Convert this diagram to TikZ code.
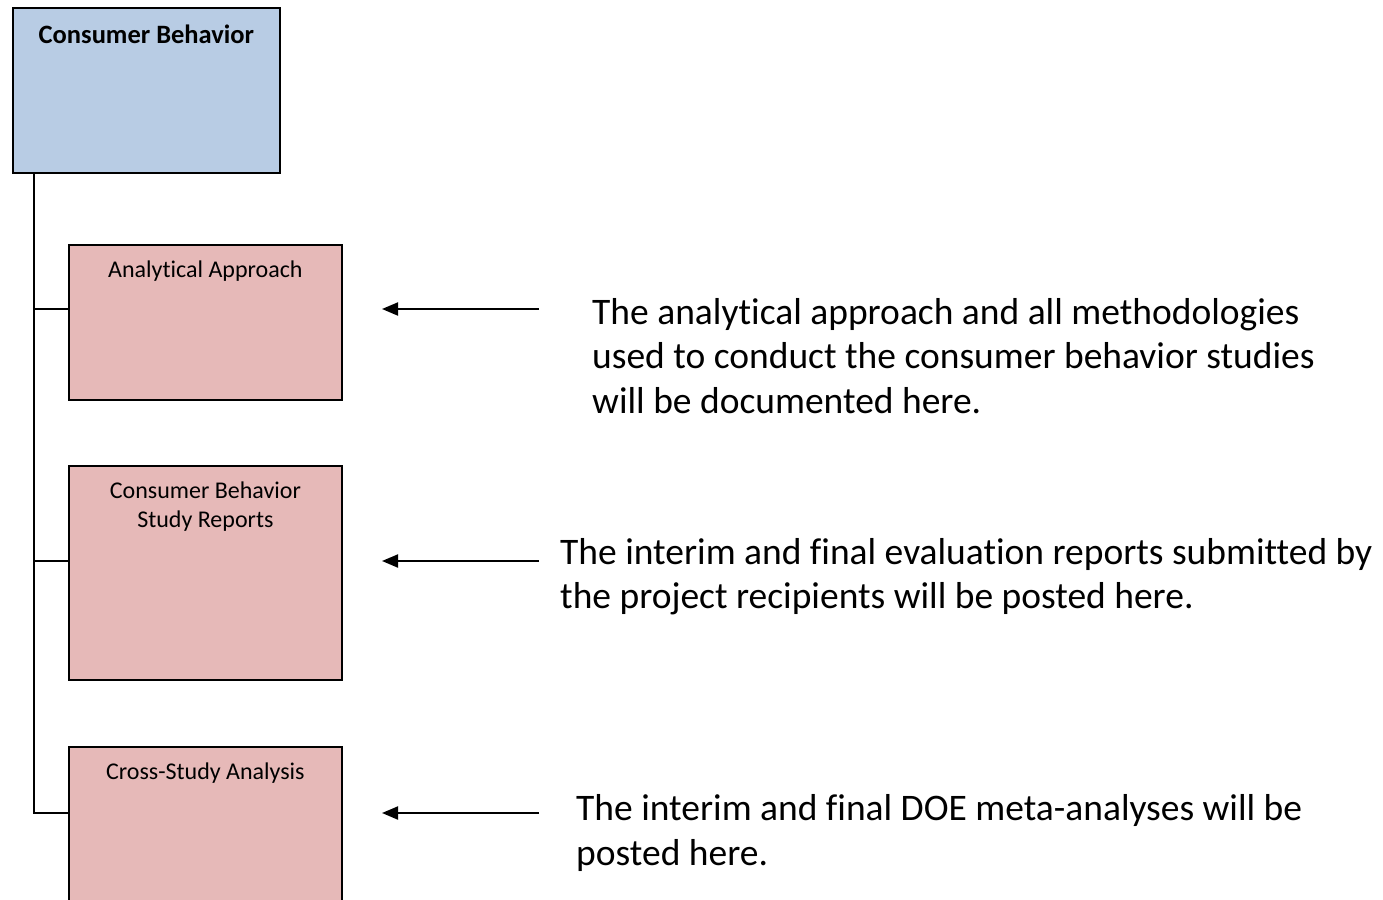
\documentclass[tikz,border=0pt]{standalone}
\usepackage{fontspec}
\setmainfont{Carlito}[Ligatures={NoCommon}]
\usetikzlibrary{arrows.meta,calc}
\definecolor{rootfill}{HTML}{B8CCE4}
\definecolor{itemfill}{HTML}{E6B9B8}
\begin{document}
\begin{tikzpicture}[x=1pt,y=-1pt,
  boxbase/.style={draw=black, line width=1.8pt, rectangle, anchor=north west, inner sep=0pt},
  rootbox/.style={boxbase, fill=rootfill, minimum width=267pt, minimum height=165pt},
  itembox/.style={boxbase, fill=itemfill, minimum width=273pt},
  boxlabel/.style={anchor=base, align=center, inner sep=0pt, font=\fontsize{24}{29.5}\selectfont},
  rootlabel/.style={anchor=base, inner sep=0pt, font=\fontsize{26.5}{32}\selectfont\bfseries},
  tree/.style={draw=black, line width=1.8pt},
  pointer/.style={draw=black, line width=2pt, -{Triangle[length=16pt,width=13pt]}},
  note/.style={anchor=base west, align=left, inner sep=0pt, font=\fontsize{37.5}{44.5}\selectfont}
]
\useasboundingbox (0,0) rectangle (1383,899);
\clip (0,0) rectangle (1383,899);

% hierarchy boxes (labels are placed by the baseline of their last line)
\node[rootbox] (root) at (12,7) {};
\node[rootlabel, yshift=-37pt] (rootl) at (root.north) {Consumer Behavior};

\node[itembox, minimum height=155pt] (c1) at (68,244) {};
\node[boxlabel, yshift=-33pt] (c1l) at (c1.north) {Analytical Approach};

\node[itembox, minimum height=214pt] (c2) at (68,465) {};
\node[boxlabel, yshift=-62.5pt] (c2l) at (c2.north) {Consumer Behavior\\Study Reports};

\node[itembox, minimum height=214pt] (c3) at (68,746) {};
\node[boxlabel, yshift=-33pt] (c3l) at (c3.north) {Cross-Study Analysis};

% tree connectors from the root down the left trunk
\coordinate (trunk) at (34,172);
\coordinate (j1) at (c1.west |- 0,309);
\coordinate (j2) at (c2.west |- 0,561);
\coordinate (j3) at (c3.west |- 0,813);
\draw[tree] (trunk) |- (j1);
\draw[tree] (trunk) |- (j2);
\draw[tree] (trunk) |- (j3);

% explanatory notes with pointers
\coordinate (s1) at (539,309); \coordinate (e1) at (382,309);
\coordinate (s2) at (539,561); \coordinate (e2) at (382,561);
\coordinate (s3) at (539,813); \coordinate (e3) at (382,813);
\draw[pointer] (s1) -- (e1);
\draw[pointer] (s2) -- (e2);
\draw[pointer] (s3) -- (e3);

\node[note] (n1) at (592,413) {The analytical approach and all methodologies\\used to conduct the consumer behavior studies\\will be documented here.};
\node[note] (n2) at (560,608.5) {The interim and final evaluation reports submitted by\\the project recipients will be posted here.};
\node[note] (n3) at (576,865) {The interim and final DOE meta-analyses will be\\posted here.};
\end{tikzpicture}
\end{document}
